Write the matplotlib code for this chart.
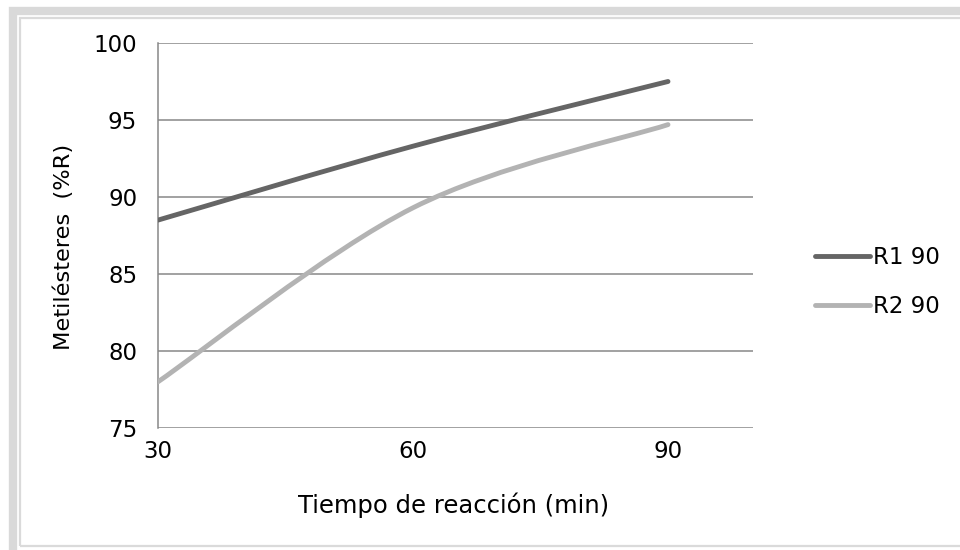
import matplotlib
matplotlib.use("Agg")
from matplotlib import pyplot as plt
from matplotlib.path import Path
from matplotlib.patches import PathPatch, Rectangle
from matplotlib.lines import Line2D

plt.rcParams["font.family"] = ["DejaVu Sans"]

# Reaction time (min) and methyl ester yield (%R)
TIEMPO = [30, 60, 90]
R1_90 = [88.5, 93.3, 97.5]
R2_90 = [78.0, 89.3, 94.7]
SERIES = ["R1 90", "R2 90"]
COLORS = ["#656565", "#b3b3b3"]
FS = 16.5


def smooth_path(xs, ys):
    # Catmull-Rom style bezier, like the spreadsheet "smoothed line" option
    pts = list(zip(xs, ys))
    verts = [pts[0]]
    codes = [Path.MOVETO]
    n = len(pts)
    for i in range(n - 1):
        p0 = pts[i - 1] if i > 0 else pts[i]
        p1 = pts[i]
        p2 = pts[i + 1]
        p3 = pts[i + 2] if i + 2 < n else pts[i + 1]
        c1 = (p1[0] + (p2[0] - p0[0]) / 6, p1[1] + (p2[1] - p0[1]) / 6)
        c2 = (p2[0] - (p3[0] - p1[0]) / 6, p2[1] - (p3[1] - p1[1]) / 6)
        verts += [c1, c2, p2]
        codes += [Path.CURVE4] * 3
    return Path(verts, codes)


fig = plt.figure(figsize=(9.6, 5.5), dpi=100)
W, H = 960, 550

# grey chart-area frame
fig.patches.append(Rectangle((12.5 / W, -0.05), 1.2, (550 - 10.5) / H + 0.05, transform=fig.transFigure,
                             facecolor="none", edgecolor="#d9d9d9", linewidth=6))
fig.patches.append(Rectangle((20 / W, 4 / H), 1.2, (550 - 21.5) / H, transform=fig.transFigure,
                             facecolor="none", edgecolor="#dadada", linewidth=1.6))

ax = fig.add_axes([158 / W, (550 - 428) / H, 595 / W, 385 / H])

for ys, color in zip([R1_90, R2_90], COLORS):
    ax.add_patch(PathPatch(smooth_path(TIEMPO, ys), facecolor="none", edgecolor=color,
                           linewidth=3.5, capstyle="round", zorder=3))

ax.set_xlim(30, 100)
ax.set_ylim(75, 100)
ax.set_xticks([30, 60, 90])
ax.set_yticks([75, 80, 85, 90, 95, 100])
ax.grid(axis="y", color="#878787", linewidth=1.1)
ax.set_axisbelow(True)
for side in ["top", "right", "bottom"]:
    ax.spines[side].set_visible(False)
ax.spines["left"].set_color("#878787")
ax.spines["left"].set_linewidth(1.1)
ax.tick_params(length=0, labelsize=FS, colors="black")
ax.tick_params(axis="y", pad=15)
ax.tick_params(axis="x", pad=9)

fig.text(454 / W, 1 - 505 / H, "Tiempo de reacción (min)", fontsize=17.5,
         ha="center", va="center")
fig.text(64 / W, 1 - 247 / H, "Metilésteres  (%R)", fontsize=16.2, rotation=90,
         ha="center", va="center")

handles = [Line2D([], [], color=c, linewidth=3.5, solid_capstyle="round") for c in COLORS]
fig.legend(handles, SERIES, loc="center left", bbox_to_anchor=(806 / W, 1 - 282 / H),
           frameon=False, fontsize=FS, handlelength=2.4, handletextpad=0.12,
           labelspacing=1.12, borderaxespad=0)

fig.savefig("out.png", dpi=100)
